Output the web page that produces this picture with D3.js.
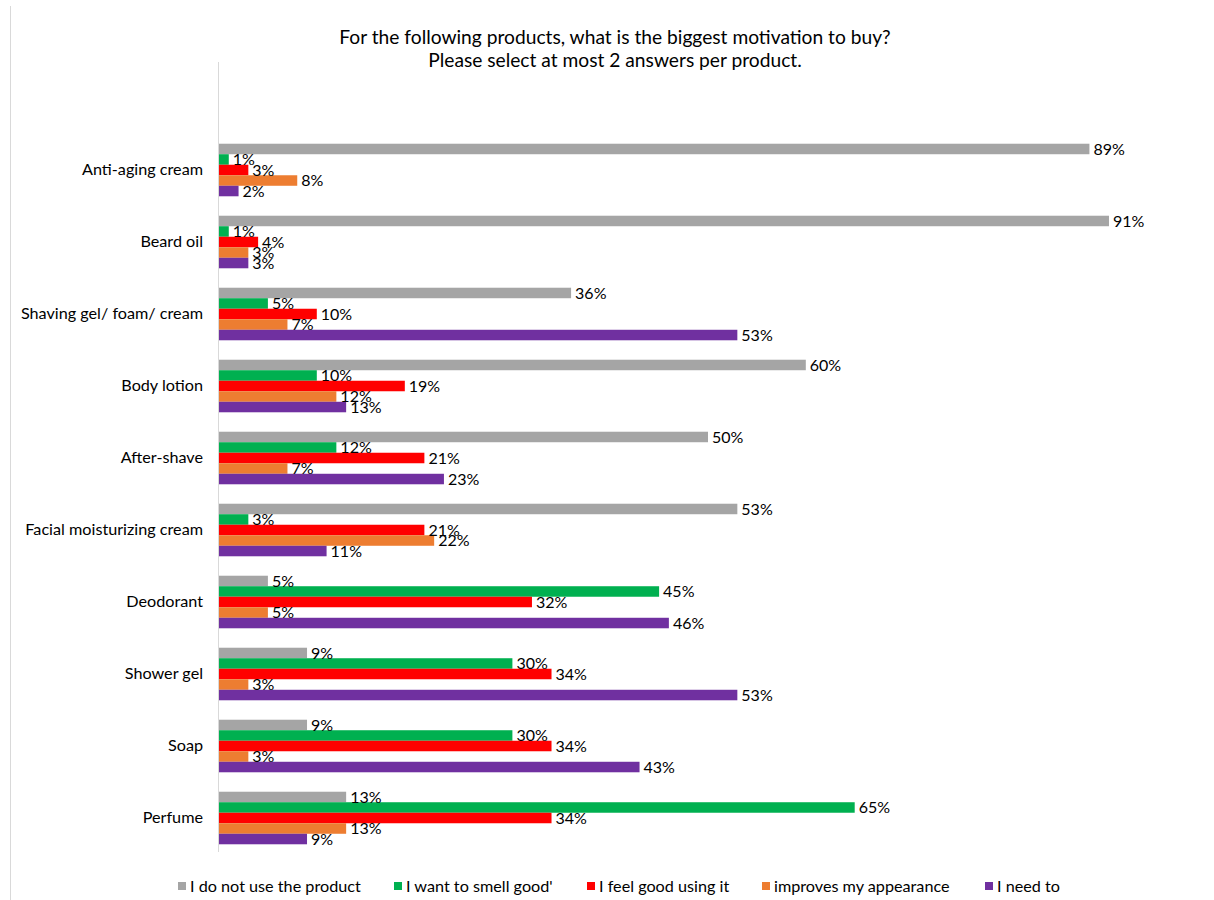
<!DOCTYPE html>
<html><head><meta charset="utf-8">
<script src="https://cdn.jsdelivr.net/npm/d3@7"></script>
<style>body{margin:0;background:#fff;} text{font-family:Lato, "Open Sans", sans-serif;}</style>
</head><body>
<script>
const categories = ["Anti-aging cream","Beard oil","Shaving gel/ foam/ cream","Body lotion","After-shave","Facial moisturizing cream","Deodorant","Shower gel","Soap","Perfume"];
const seriesNames = ["I do not use the product","I want to smell good'","I feel good using it","improves my appearance","I need to"];
const seriesColors = ["#A5A5A5","#00B050","#FF0000","#ED7D31","#7030A0"];
const notUse   = [89,91,36,60,50,53,5,9,9,13];
const smell    = [1,1,5,10,12,3,45,30,30,65];
const feelGood = [3,4,10,19,21,21,32,34,34,34];
const appear   = [8,3,7,12,7,22,5,3,3,13];
const needTo   = [2,3,53,13,23,11,46,53,43,9];
const seriesValues = [notUse, smell, feelGood, appear, needTo];
const titleLines = ["For the following products, what is the biggest motivation to buy?","Please select at most 2 answers per product."];

const W=1214,H=900;
const svg=d3.select("body").append("svg").attr("width",W).attr("height",H);

// left border line
svg.append("line").attr("x1",10.5).attr("x2",10.5).attr("y1",6).attr("y2",H).attr("stroke","#D9D9D9");

const x=d3.scaleLinear().domain([0,100]).range([219,219+978]);
const y=d3.scaleBand().domain(categories).range([134,854]).paddingInner(0.27).paddingOuter(0.135);
const ys=d3.scaleBand().domain(d3.range(seriesNames.length)).range([0,y.bandwidth()]);

// title
svg.append("g").selectAll("text").data(titleLines).join("text")
  .attr("x",615).attr("y",(d,i)=>44+i*23).attr("text-anchor","middle")
  .attr("font-size",19.2).attr("fill","#000").text(d=>d);

// bars
const groups=svg.append("g").selectAll("g").data(categories).join("g")
  .attr("transform",d=>`translate(0,${y(d)})`);
groups.each(function(cat,ci){
  const g=d3.select(this);
  seriesValues.forEach((vals,si)=>{
    g.append("rect").attr("x",x(0)).attr("y",ys(si)).attr("width",x(vals[ci])-x(0))
      .attr("height",ys.bandwidth()).attr("fill",seriesColors[si]);
  });
  seriesValues.forEach((vals,si)=>{
    g.append("text").attr("x",x(vals[ci])+4).attr("y",ys(si)+ys.bandwidth()/2)
      .attr("dy","0.36em").attr("font-size",16).attr("fill","#000").text(vals[ci]+"%");
  });
});

// axis
const ax=svg.append("g").attr("transform",`translate(${x(0)},0)`)
  .call(d3.axisLeft(y).tickSize(0).tickPadding(16));
ax.select(".domain").remove();
ax.selectAll("text").attr("font-size",16.2).attr("fill","#000").style("font-family","Lato, 'Open Sans', sans-serif");
svg.append("line").attr("x1",x(0)-0.5).attr("x2",x(0)-0.5).attr("y1",62).attr("y2",852).attr("stroke","#D9D9D9");

// legend
const legX=[178,394,587,762,985];
const leg=svg.append("g").selectAll("g").data(seriesNames).join("g")
  .attr("transform",(d,i)=>`translate(${legX[i]},886)`);
leg.append("rect").attr("x",0).attr("y",-4).attr("width",8).attr("height",8).attr("fill",(d,i)=>seriesColors[i]);
leg.append("text").attr("x",12).attr("dy","0.36em").attr("font-size",16.2).attr("fill","#000").text(d=>d);
</script>
</body></html>
